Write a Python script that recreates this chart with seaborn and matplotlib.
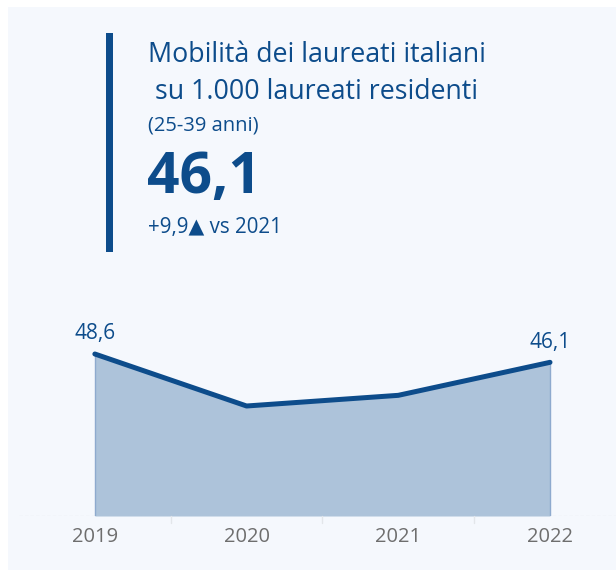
import numpy as np
import pandas as pd
import matplotlib.pyplot as plt
import seaborn as sns
from matplotlib.patches import Rectangle

years = ["2019", "2020", "2021", "2022"]
values = [48.6, 33.0, 36.2, 46.1]
title_lines = ["Mobilità dei laureati italiani", " su 1.000 laureati residenti"]
subtitle = "(25-39 anni)"
kpi = "46,1"
delta = "+9,9▲ vs 2021"

sns.set_theme(style="white")
plt.rcParams["font.family"] = ["Open Sans", "DejaVu Sans"]

dark = "#0d4c8b"
fill = "#adc3da"
bg = "#f5f8fd"

df = pd.DataFrame({"year": years, "value": values})
df["x"] = np.arange(len(df))

fig = plt.figure(figsize=(6.16, 5.70), dpi=100)
fig.patch.set_facecolor("white")
fig.patches.append(Rectangle((8 / 616, 0), 1, 1 - 7 / 570, transform=fig.transFigure,
                             facecolor=bg, edgecolor="none", zorder=-10))

# header block
fig.patches.append(Rectangle((106 / 616, 1 - 252 / 570), 7 / 616, 219 / 570,
                             transform=fig.transFigure, facecolor=dark, edgecolor="none"))
fig.text(148 / 616, 1 - 55 / 570, title_lines[0], fontsize=19.3, color=dark, va="center")
fig.text(148 / 616, 1 - 92 / 570, title_lines[1], fontsize=19.3, color=dark, va="center")
fig.text(148 / 616, 1 - 126 / 570, subtitle, fontsize=14.5, color=dark, va="center")
fig.text(147 / 616, 1 - 178 / 570, kpi, fontsize=41, fontweight="bold", color=dark, va="center")
fig.text(148 / 616, 1 - 228 / 570, delta, fontsize=14.8, color=dark, va="center")

# area chart
ax = fig.add_axes([19 / 616, 1 - 516 / 570, 597 / 616, 216 / 570])
ax.set_facecolor("none")
ax.fill_between(df["x"], 0, df["value"], color=fill, linewidth=0)
for i in [0, len(df) - 1]:
    ax.plot([df["x"][i]] * 2, [0, df["value"][i]], color="#8eaace", lw=1)
sns.lineplot(data=df, x="x", y="value", ax=ax, color=dark, linewidth=3.6,
             solid_capstyle="round")
ax.axhline(0, color="#c8c8c8", lw=0.8, ls=(0, (3, 2)))

for i in [0, len(df) - 1]:
    ax.annotate(f"{values[i]:.1f}".replace(".", ","), (df["x"][i], values[i]),
                xytext=(0, 7), textcoords="offset points", ha="center", va="bottom",
                fontsize=15, color=dark)

ax.set_xlim(-0.5, 3.435)
ax.set_ylim(0, 64.8)
ax.set_xticks(df["x"])
ax.set_xticklabels(years, fontsize=14.5, color="#6e6e6e")
ax.tick_params(axis="x", length=0, pad=8)
for xm in [0.5, 1.5, 2.5]:
    ax.plot([xm, xm], [0, -2.2], color="#e3e6ea", lw=1, clip_on=False)
ax.set_yticks([])
ax.set_xlabel("")
ax.set_ylabel("")
sns.despine(ax=ax, left=True, bottom=True)

fig.savefig("out.png", dpi=100)
